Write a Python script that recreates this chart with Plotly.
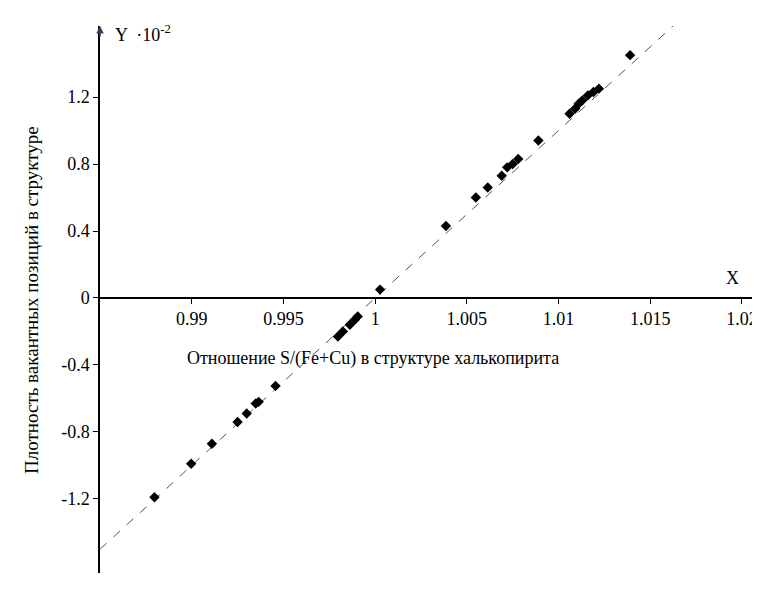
import plotly.graph_objects as go

# точки: отношение S/(Fe+Cu) и плотность вакансий (x10^-2)
ratio = [0.98797, 0.98997, 0.9911, 0.9925, 0.9930, 0.99349, 0.99365, 0.99457,
         0.99797, 0.99824, 0.99862, 0.99889, 0.99905, 1.00027,
         1.00386, 1.00549, 1.00614, 1.0069, 1.0072, 1.0075, 1.0078, 1.0089,
         1.0106, 1.0109, 1.0111, 1.0113, 1.0116, 1.0119, 1.0122, 1.0139]
vacancy = [-1.19, -0.99, -0.87, -0.74, -0.69, -0.63, -0.62, -0.525,
           -0.23, -0.20, -0.16, -0.13, -0.11, 0.05,
           0.43, 0.60, 0.66, 0.73, 0.78, 0.80, 0.83, 0.94,
           1.10, 1.13, 1.16, 1.18, 1.21, 1.23, 1.25, 1.45]
fit_x = [0.985, 1.0163]
fit_y = [-1.5, 1.63]

x_ticks = [0.99, 0.995, 1.0, 1.005, 1.01, 1.015, 1.02]
x_labels = ["0.99", "0.995", "1", "1.005", "1.01", "1.015", "1.02"]
y_ticks = [-1.2, -0.8, -0.4, 0, 0.4, 0.8, 1.2]
y_labels = ["-1.2", "-0.8", "-0.4", "0", "0.4", "0.8", "1.2"]

font = dict(family="Liberation Serif", size=18, color="black")
ymin, ymax = -1.642, 1.624

fig = go.Figure()
fig.add_trace(go.Scatter(x=fit_x, y=fit_y, mode="lines",
                         line=dict(color="#555", width=1, dash="dash")))
fig.add_trace(go.Scatter(x=ratio, y=vacancy, mode="markers",
                         marker=dict(symbol="diamond", size=8, color="black")))

fig.update_layout(
    width=760, height=612,
    margin=dict(l=92, r=10, t=18, b=47),
    plot_bgcolor="white", paper_bgcolor="white",
    showlegend=False, font=font,
    xaxis=dict(range=[0.985, 1.0206], tickvals=x_ticks, ticktext=x_labels,
               showgrid=False, zeroline=False, showline=True, linecolor="black",
               linewidth=1.5, ticks="outside", ticklen=5, tickcolor="black",
               anchor="free", position=(0 - ymin) / (ymax - ymin)),
    yaxis=dict(range=[ymin, ymax], tickvals=y_ticks, ticktext=y_labels,
               showgrid=False, zeroline=False, showline=True, linecolor="black",
               linewidth=1.5, ticks="outside", ticklen=5, tickcolor="black"),
)

fig.add_annotation(x=0.985, y=ymax, ax=0, ay=12, xref="x", yref="y",
                   showarrow=True, arrowhead=2, arrowsize=1, arrowwidth=1.5, text="")
fig.add_annotation(x=0.9857, y=1.58, xref="x", yref="y", showarrow=False,
                   text="Y  ·10<sup>-2</sup>", xanchor="left")
fig.add_annotation(x=1.0195, y=0.12, xref="x", yref="y", showarrow=False,
                   text="X", xanchor="center")
fig.add_annotation(x=0.9999, y=-0.36, xref="x", yref="y", showarrow=False,
                   text="Отношение S/(Fe+Cu) в структуре халькопирита", xanchor="center")
fig.add_annotation(x=-0.105, y=0.5, xref="paper", yref="paper", showarrow=False,
                   text="Плотность вакантных позиций в структуре", textangle=-90,
                   xanchor="center", font=dict(size=19))

fig.write_html("out.html")
